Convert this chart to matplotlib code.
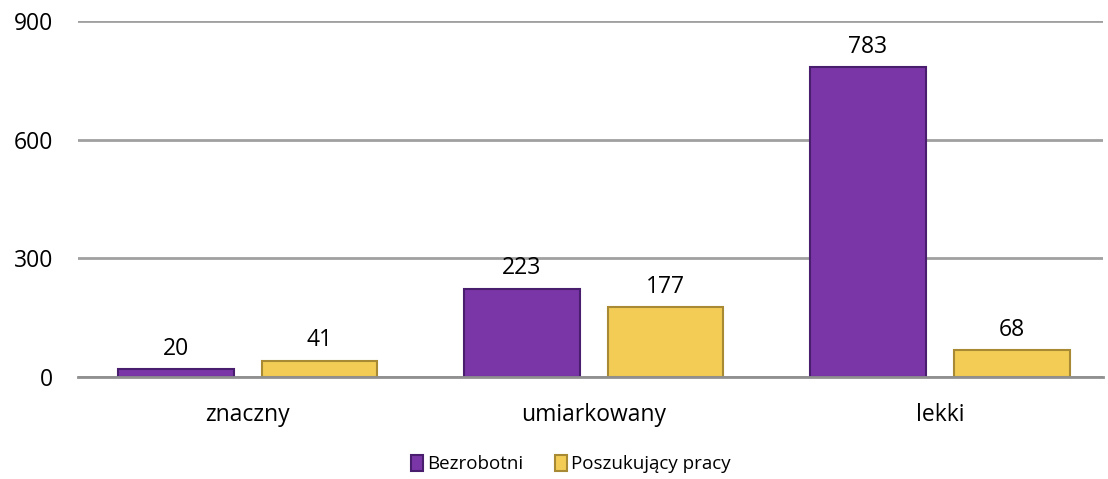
import numpy as np
import matplotlib.pyplot as plt

plt.rcParams['font.family'] = ['Open Sans', 'DejaVu Sans']

# dane
categories = ['znaczny', 'umiarkowany', 'lekki']
bezrobotni = [20, 223, 783]
poszukujacy = [41, 177, 68]
series_names = ['Bezrobotni', 'Poszukujący pracy']
yticks = [0, 300, 600, 900]

purple = '#7A36A6'
purple_edge = '#4A1E6E'
yellow = '#F2CC55'
yellow_edge = '#A88A35'

fig = plt.figure(figsize=(11.08, 4.79), dpi=100)
ax = fig.add_axes([0.0704, 0.213, 0.925, 0.743])

x = np.arange(len(categories))
w = 0.333
off = 0.208

b1 = ax.bar(x - off, bezrobotni, w, color=purple, edgecolor=purple_edge,
            linewidth=1.5, label=series_names[0], zorder=3)
b2 = ax.bar(x + off, poszukujacy, w, color=yellow, edgecolor=yellow_edge,
            linewidth=1.5, label=series_names[1], zorder=3)

# etykiety wartości
for bars, vals in [(b1, bezrobotni), (b2, poszukujacy)]:
    for rect, v in zip(bars, vals):
        ax.annotate(str(v), (rect.get_x() + rect.get_width() / 2, v),
                    xytext=(0, 6), textcoords='offset points',
                    ha='center', va='bottom', fontsize=16.5, color='#000000')

ax.set_ylim(0, 900)
ax.set_xlim(-0.491, 2.471)
ax.set_yticks(yticks)
ax.set_yticklabels([str(t) for t in yticks], fontsize=16.5)
ax.set_xticks(x)
ax.set_xticklabels(categories, fontsize=16.5)
ax.tick_params(axis='x', length=0, pad=19)
ax.tick_params(axis='y', length=0, pad=18)

ax.yaxis.grid(True, color='#A0A0A0', linewidth=2, zorder=0)
for s in ['top', 'right', 'left']:
    ax.spines[s].set_visible(False)
ax.spines['bottom'].set_color('#909090')
ax.spines['bottom'].set_linewidth(2)
ax.spines['bottom'].set_zorder(4)

ax.legend(loc='center', bbox_to_anchor=(0.481, -0.245), ncol=2,
          frameon=False, fontsize=13.5, handlelength=0.65, handleheight=0.9,
          handletextpad=0.2, columnspacing=1.7)

plt.savefig('out.png', dpi=100)
